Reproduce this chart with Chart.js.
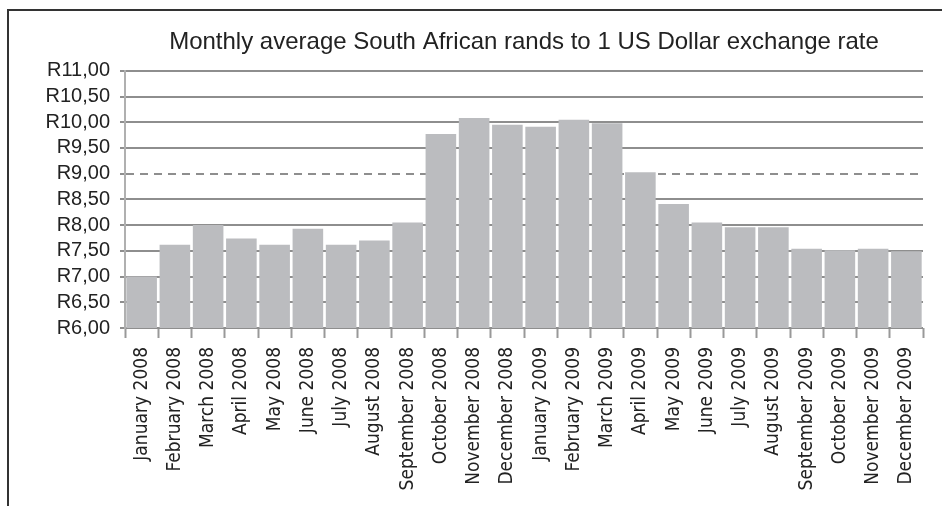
<!DOCTYPE html>
<html>
<head>
<meta charset="utf-8">
<script src="https://cdn.jsdelivr.net/npm/chart.js@4"></script>
<style>
  html, body { margin: 0; padding: 0; background: #fff; }
  #wrap { position: relative; width: 942px; height: 506px; overflow: hidden; }
  #frame { position: absolute; left: 7px; top: 9px; right: -5px; bottom: -5px;
           border-left: 2px solid #333; border-top: 2px solid #333; }
  canvas { position: absolute; left: 0; top: 0; }
</style>
</head>
<body>
<div id="wrap">
  <div id="frame"></div>
  <canvas id="chart" width="942" height="506"></canvas>
</div>
<script>
const months = ['January 2008', 'February 2008', 'March 2008', 'April 2008', 'May 2008', 'June 2008',
    'July 2008', 'August 2008', 'September 2008', 'October 2008', 'November 2008', 'December 2008',
    'January 2009', 'February 2009', 'March 2009', 'April 2009', 'May 2009', 'June 2009',
    'July 2009', 'August 2009', 'September 2009', 'October 2009', 'November 2009', 'December 2009'];
const randsPerDollar = [7.00, 7.62, 8.00, 7.74, 7.62, 7.93, 7.62, 7.70, 8.05, 9.77, 10.08, 9.95,
    9.91, 10.05, 9.98, 9.03, 8.41, 8.05, 7.96, 7.96, 7.54, 7.51, 7.54, 7.49];
const yMin = 6;
const yMax = 11;
const yStep = 0.5;
const dashedLevel = 9;

const ctx = document.getElementById('chart').getContext('2d');

new Chart(ctx, {
    type: 'bar',
    data: {
        labels: months,
        datasets: [{
            data: randsPerDollar,
            backgroundColor: '#bbbcbf',
            borderWidth: 0,
            barPercentage: 0.92,
            categoryPercentage: 1.0
        }]
    },
    options: {
        responsive: false,
        devicePixelRatio: 1,
        animation: false,
        layout: { padding: { left: 45, right: 19, top: 10, bottom: 0 } },
        plugins: {
            legend: { display: false },
            tooltip: { enabled: false },
            title: {
                display: true,
                fullSize: false,
                text: 'Monthly average South African rands to 1 US Dollar exchange rate',
                color: '#222',
                font: { family: "'Liberation Sans', Arial, sans-serif", size: 24, weight: 'normal' },
                padding: { top: 18, bottom: 14 }
            }
        },
        scales: {
            x: {
                offset: true,
                grid: {
                    offset: true,
                    drawOnChartArea: false,
                    drawTicks: true,
                    tickLength: 10,
                    tickWidth: 2,
                    tickColor: '#999'
                },
                border: { display: false },
                ticks: {
                    color: '#222',
                    minRotation: 90,
                    maxRotation: 90,
                    autoSkip: false,
                    padding: 9,
                    font: { family: "'DejaVu Sans Condensed', 'Liberation Sans Narrow', sans-serif", size: 19 }
                },
                afterFit: (scale) => { scale.height = 178; }
            },
            y: {
                min: yMin,
                max: yMax,
                grid: {
                    color: '#8e8e8e',
                    lineWidth: 2,
                    tickLength: 5,
                    tickColor: '#8e8e8e'
                },
                border: {
                    display: true,
                    color: '#b0b0b0',
                    width: 2,
                    dash: (c) => {
                        if (!c.tick) return [5, 4];
                        return c.tick.value === dashedLevel ? [8, 6] : [];
                    }
                },
                ticks: {
                    stepSize: yStep,
                    autoSkip: false,
                    color: '#222',
                    padding: 10,
                    font: { family: "'Liberation Sans', Arial, sans-serif", size: 20 },
                    callback: (v) => 'R' + Number(v).toFixed(2).replace('.', ',')
                },
                afterFit: (scale) => { scale.width = 80; }
            }
        }
    }
});
</script>
</body>
</html>
